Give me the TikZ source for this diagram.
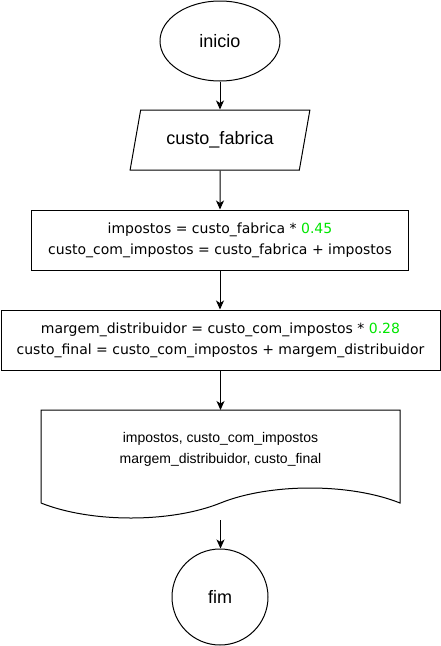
\documentclass[tikz,border=0pt]{standalone}
\usepackage{fontspec}
\setmainfont{Liberation Sans}
\newfontfamily\procfont{DejaVu Sans}
\usepackage{tikz}
\usetikzlibrary{shapes.geometric,arrows.meta,calc}
\definecolor{numgreen}{HTML}{00E600}
\tikzstyle{terminal}=[ellipse, draw, line width=1pt, inner sep=0pt]

\begin{document}
\begin{tikzpicture}[x=1pt,y={(0pt,-1pt)},line width=1pt,
  entrada/.style={trapezium,trapezium left angle=72,trapezium right angle=108,trapezium stretches=true,draw,minimum width=180pt,minimum height=60pt,font=\fontsize{18}{22}\selectfont},
  processo/.style={rectangle,draw,minimum height=60pt,align=center,font=\procfont\fontsize{14}{21}\selectfont},
  seta/.style={-{Stealth[length=9pt,width=8pt,inset=2.5pt]}}]
\useasboundingbox (0,0) rectangle (441,646);
\node (ini) at (220,41)[terminal,minimum width=120pt,minimum height=80pt,font=\fontsize{18}{22}\selectfont] {inicio};
\node (ler) at (220,140)[entrada] {custo\_fabrica};
\node (calc1) at (220,240)[processo,minimum width=377pt] {impostos = custo\_fabrica * \textcolor{numgreen}{0.45}\\custo\_com\_impostos = custo\_fabrica + impostos};
\node (calc2) at (220.5,340)[processo,minimum width=439pt] {margem\_distribuidor = custo\_com\_impostos * \textcolor{numgreen}{0.28}\\custo\_final = custo\_com\_impostos + margem\_distribuidor};
\node (saida) at (220.5,449)[align=center,font=\fontsize{14}{21}\selectfont] {impostos, custo\_com\_impostos\\margem\_distribuidor, custo\_final};
\coordinate (stop) at (220.5,410);
\coordinate (sbot) at (220.5,520);
\node (fim) at (220,597)[terminal,circle,minimum size=96pt,font=\fontsize{18}{22}\selectfont] {fim};
% documento
\draw (41,503) -- (41,410) -- (400,410) -- (400,503)
  .. controls (350,483) and (270,483) .. (220.5,503)
  .. controls (171,523) and (91,523) .. (41,503);
% setas
\draw[seta] (ini) -- (ler);
\draw[seta] (ler) -- (calc1);
\draw[seta] (calc1.south) -- (calc2.north -| calc1.south);
\draw[seta] (calc2) -- (stop);
\draw[seta] (sbot) -- (fim.north -| sbot);
\end{tikzpicture}
\end{document}
